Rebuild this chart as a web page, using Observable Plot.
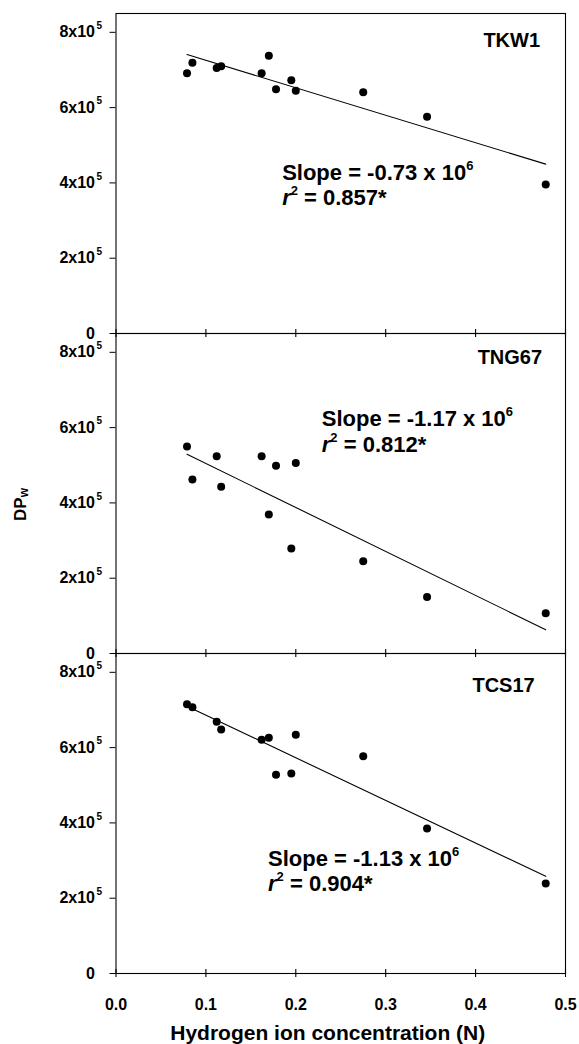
<!DOCTYPE html>
<html>
<head>
<meta charset="utf-8">
<script src="https://cdn.jsdelivr.net/npm/d3@7"></script>
<script src="https://cdn.jsdelivr.net/npm/@observablehq/plot@0.6"></script>
<style>
  html, body { margin: 0; padding: 0; background: #fff; }
</style>
</head>
<body>
<div id="chart"></div>
<script>
// ---- data ----
const panels = ["TKW1", "TNG67", "TCS17"];
const hydrogenIon = [0.079, 0.085, 0.112, 0.117, 0.162, 0.170, 0.178, 0.195, 0.200, 0.275, 0.346, 0.478];
const dpTKW1  = [6.91e5, 7.19e5, 7.05e5, 7.10e5, 6.91e5, 7.38e5, 6.49e5, 6.73e5, 6.45e5, 6.41e5, 5.76e5, 3.96e5];
const dpTNG67 = [5.50e5, 4.62e5, 5.24e5, 4.43e5, 5.24e5, 3.69e5, 4.99e5, 2.79e5, 5.06e5, 2.45e5, 1.50e5, 1.07e5];
const dpTCS17 = [7.15e5, 7.07e5, 6.69e5, 6.48e5, 6.21e5, 6.26e5, 5.28e5, 5.31e5, 6.34e5, 5.77e5, 3.85e5, 2.39e5];
const slopes = ["-0.73", "-1.17", "-1.13"];
const rSquared = ["0.857", "0.812", "0.904"];
const xTicks = [0, 0.1, 0.2, 0.3, 0.4, 0.5];
const xTickLabels = ["0.0", "0.1", "0.2", "0.3", "0.4", "0.5"];
const yTicks = [0, 2e5, 4e5, 6e5, 8e5];
const yTickLabels = ["0", "2x10^5", "4x10^5", "6x10^5", "8x10^5"];
const xTitle = "Hydrogen ion concentration (N)";
const yTitle = "DP_w";

// ---- layout (annotation anchors in data units) ----
const panelLabelPos = [{x: 0.4717, y: 7.60e5}, {x: 0.4740, y: 7.69e5}, {x: 0.4657, y: 7.47e5}];
const statPos = [
  {x: 0.1848, y1: 4.08e5, y2: 3.41e5},
  {x: 0.2289, y1: 6.03e5, y2: 5.35e5},
  {x: 0.1691, y1: 2.864e5, y2: 2.186e5}
];

const series = [dpTKW1, dpTNG67, dpTCS17];
const rows = panels.flatMap((p, i) => hydrogenIon.map((h, j) => ({panel: p, h, dp: series[i][j]})));
const labelRows = panels.map((p, i) => ({panel: p, text: p, ...panelLabelPos[i]}));
const statRows = panels.flatMap((p, i) => [
  {panel: p, x: statPos[i].x, y: statPos[i].y1, text: `Slope = ${slopes[i]} x 10^6`},
  {panel: p, x: statPos[i].x, y: statPos[i].y2, text: `r^2 = ${rSquared[i]}*`}
]);

const facetH = 320;

const chart = Plot.plot({
  width: 579,
  height: 1044,
  marginLeft: 115.5,
  marginRight: 14,
  marginTop: 12.7,
  marginBottom: 71.3,
  style: "font-family: 'Liberation Sans', Arial, sans-serif; font-weight: bold; color: black; background: white;",
  x: {domain: [0, 0.5]},
  y: {domain: [0, 8.5e5]},
  fy: {domain: panels, padding: 0, axis: null},
  marks: [
    Plot.frame({stroke: "black", strokeWidth: 1.1}),
    Plot.axisY({ticks: yTicks, tickFormat: d => yTickLabels[yTicks.indexOf(d)], tickSize: 6, tickPadding: 15, fontSize: 16, label: null}),
    Plot.tickX(xTicks, {x: d => d, insetTop: facetH - 4, insetBottom: -4, stroke: "black", strokeWidth: 1.1}),
    Plot.axisX({ticks: xTicks, tickFormat: d => xTickLabels[xTicks.indexOf(d)], tickSize: 0, tickPadding: 25, fontSize: 16, label: null}),
    Plot.linearRegressionY(rows, {x: "h", y: "dp", fy: "panel", ci: 0, stroke: "black", strokeWidth: 1.1}),
    Plot.dot(rows, {x: "h", y: "dp", fy: "panel", r: 4, fill: "black", stroke: null}),
    Plot.text(labelRows, {x: "x", y: "y", fy: "panel", text: "text", textAnchor: "end", lineAnchor: "bottom", fontSize: 20}),
    Plot.text(statRows, {x: "x", y: "y", fy: "panel", text: "text", textAnchor: "start", lineAnchor: "bottom", fontSize: 22}),
    Plot.text([xTitle], {fy: () => panels[2], text: d => d, frameAnchor: "bottom", textAnchor: "middle", lineAnchor: "bottom", dx: -13, dy: 66, fontSize: 21}),
    Plot.text([yTitle], {fy: () => panels[1], text: d => d, frameAnchor: "left", rotate: -90, textAnchor: "middle", lineAnchor: "bottom", dx: -90.5, dy: 11, fontSize: 17})
  ]
});

document.getElementById("chart").appendChild(chart);

// ---- superscripts / subscripts / italics as tspans ----
const NS = "http://www.w3.org/2000/svg";
function tspan(txt, attrs = {}) {
  const e = document.createElementNS(NS, "tspan");
  for (const [k, v] of Object.entries(attrs)) e.setAttribute(k, v);
  e.textContent = txt;
  return e;
}
for (const t of chart.querySelectorAll("text")) {
  const s = t.textContent;
  let m;
  if ((m = s.match(/^(\d+x10)\^(\d)$/))) {
    const bx = +(t.getAttribute("x") || 0);
    t.textContent = m[1];
    t.appendChild(tspan(m[2], {x: bx + 1.5, dy: -8.5, "font-size": 10, "text-anchor": "start"}));
  } else if ((m = s.match(/^r\^(\d)(.*)$/))) {
    t.textContent = "";
    t.appendChild(tspan("r", {"font-style": "italic"}));
    t.appendChild(tspan(m[1], {dy: -10, "font-size": 13}));
    t.appendChild(tspan(m[2], {dy: 10}));
  } else if ((m = s.match(/^(.*)\^(\d)$/))) {
    t.textContent = m[1];
    t.appendChild(tspan(m[2], {dy: -10, "font-size": 13}));
  } else if ((m = s.match(/^(.*)_(\w)$/))) {
    t.textContent = m[1];
    t.appendChild(tspan(m[2], {dy: 2, "font-size": 12}));
  }
}
</script>
</body>
</html>
